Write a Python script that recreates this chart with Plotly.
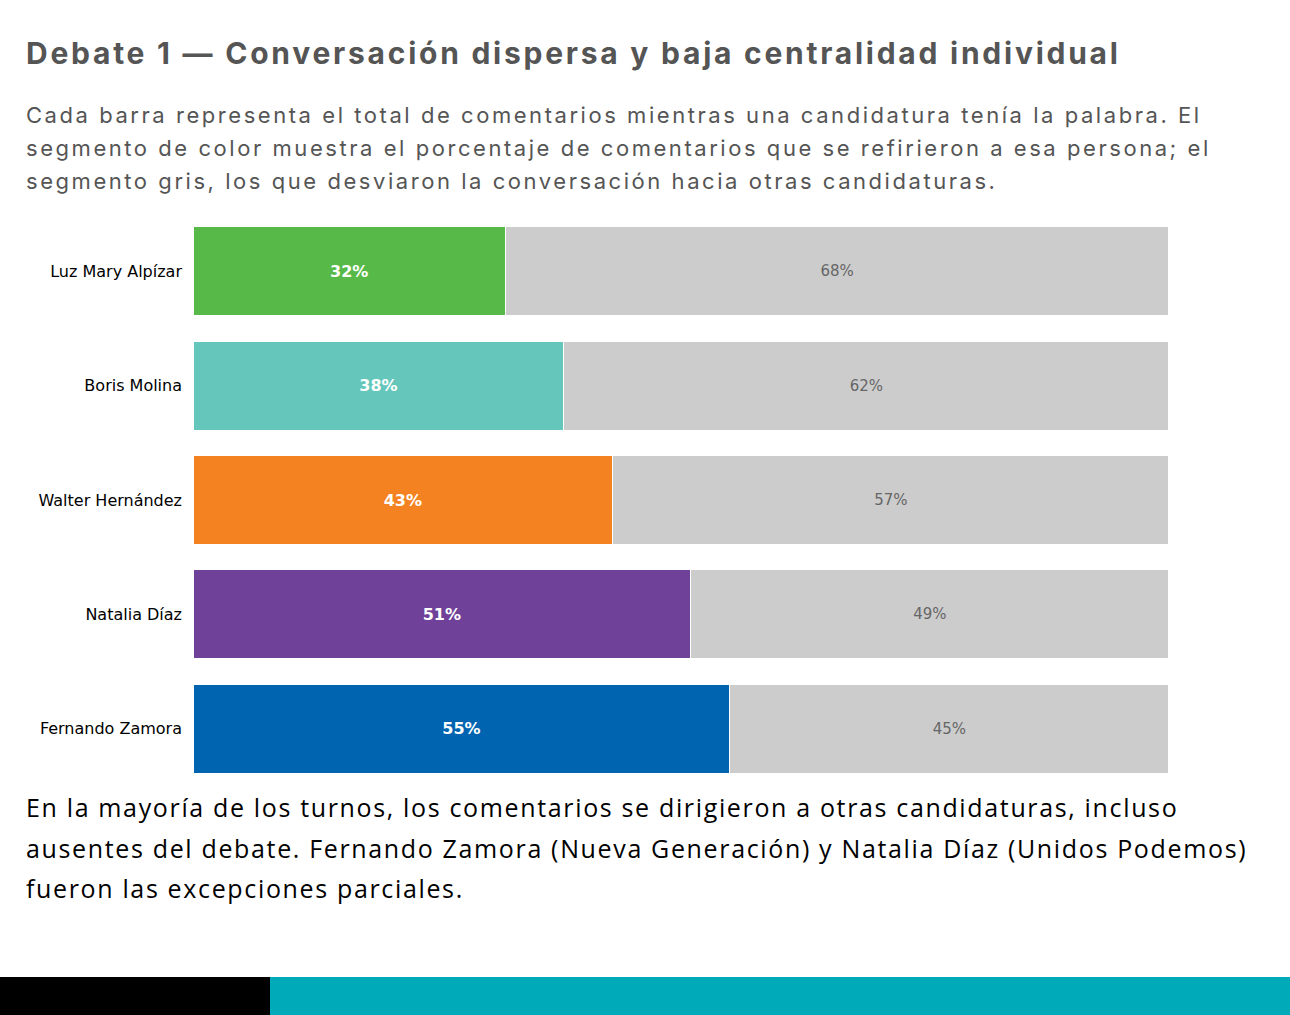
import plotly.graph_objects as go

candidates = ["Luz Mary Alpízar", "Boris Molina", "Walter Hernández", "Natalia Díaz", "Fernando Zamora"]
own_pct = [32, 38, 43, 51, 55]
other_pct = [68, 62, 57, 49, 45]
colors = ["#57B948", "#65C7BB", "#F48221", "#6F4199", "#0064B0"]

title = "Debate 1 — Conversación dispersa y baja centralidad individual"
subtitle_lines = [
    "Cada barra representa el total de comentarios mientras una candidatura tenía la palabra. El",
    "segmento de color muestra el porcentaje de comentarios que se refirieron a esa persona; el",
    "segmento gris, los que desviaron la conversación hacia otras candidaturas.",
]
caption_lines = [
    "En la mayoría de los turnos, los comentarios se dirigieron a otras candidaturas, incluso",
    "ausentes del debate. Fernando Zamora (Nueva Generación) y Natalia Díaz (Unidos Podemos)",
    "fueron las excepciones parciales.",
]

W, H = 1290, 1015
L, R, T, B = 193, 121, 214, 229
PW, PH = W - L - R, H - T - B

def px(x):
    return (x - L) / PW

def py(y):
    return (H - B - y) / PH

fig = go.Figure()
fig.add_trace(go.Bar(
    y=candidates, x=own_pct, orientation="h",
    marker=dict(color=colors, line=dict(color="white", width=1.2)),
    text=[f"{v}%" for v in own_pct], textposition="inside", insidetextanchor="middle",
    textfont=dict(family="DejaVu Sans", size=16, color="white", weight="bold"),
    hoverinfo="skip", showlegend=False,
))
fig.add_trace(go.Bar(
    y=candidates, x=other_pct, orientation="h",
    marker=dict(color="#CCCCCC", line=dict(color="white", width=1.2)),
    text=[f"{v}%" for v in other_pct], textposition="inside", insidetextanchor="middle",
    textfont=dict(family="DejaVu Sans", size=15, color="#666666"),
    hoverinfo="skip", showlegend=False,
))

annotations = []
annotations.append(dict(
    text=f'<span style="letter-spacing:2.75px">{title}</span>',
    x=px(24), y=py(53), xref="paper", yref="paper", xanchor="left", yanchor="middle",
    showarrow=False, font=dict(family="Inter", size=30, color="#555555", weight="bold"),
))
for i, line in enumerate(subtitle_lines):
    annotations.append(dict(
        text=f'<span style="letter-spacing:2.55px">{line}</span>',
        x=px(24), y=py([115, 148, 181][i]), xref="paper", yref="paper",
        xanchor="left", yanchor="middle", showarrow=False,
        font=dict(family="Inter", size=22, color="#555555"),
    ))
for i, line in enumerate(caption_lines):
    annotations.append(dict(
        text=f'<span style="letter-spacing:1.65px">{line}</span>',
        x=px(24), y=py([807, 848, 888][i]), xref="paper", yref="paper",
        xanchor="left", yanchor="middle", showarrow=False,
        font=dict(family="Open Sans", size=25, color="#000000"),
    ))

shapes = [
    dict(type="rect", xref="paper", yref="paper", x0=px(0), x1=px(270), y0=py(977), y1=py(1015),
         fillcolor="#000000", line=dict(width=0), layer="above"),
    dict(type="rect", xref="paper", yref="paper", x0=px(270), x1=px(1290), y0=py(977), y1=py(1015),
         fillcolor="#00AAB9", line=dict(width=0), layer="above"),
]

fig.update_layout(
    width=W, height=H, barmode="stack", bargap=0.22,
    margin=dict(l=L, r=R, t=T, b=B, pad=0),
    paper_bgcolor="white", plot_bgcolor="white",
    xaxis=dict(range=[0, 100], visible=False, fixedrange=True),
    yaxis=dict(autorange="reversed", showgrid=False, zeroline=False, showline=False, ticks="",
               ticklabelstandoff=10,
               tickfont=dict(family="DejaVu Sans", size=16, color="#000000")),
    annotations=annotations, shapes=shapes,
)

fig.write_html("out.html")
